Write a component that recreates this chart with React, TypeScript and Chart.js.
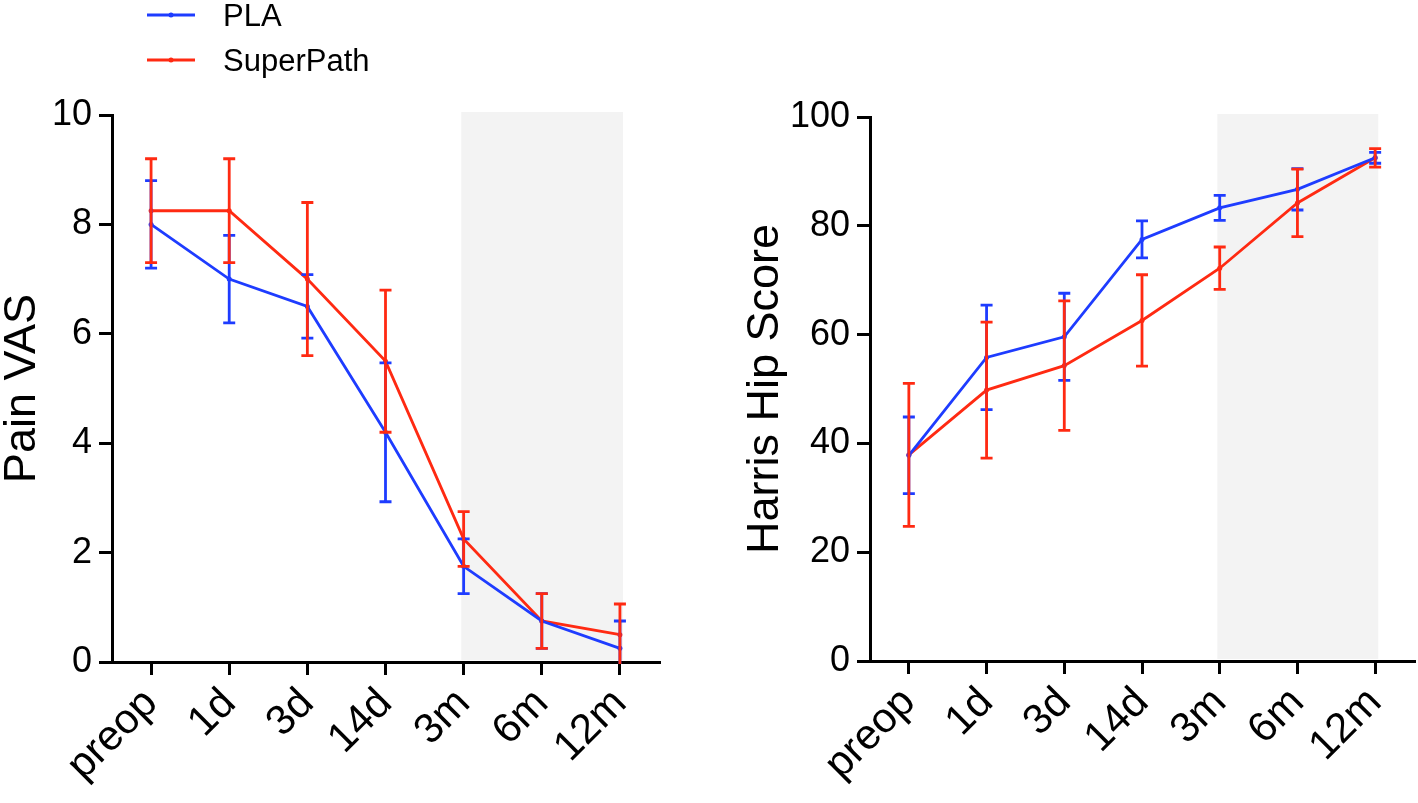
import React, { useEffect, useRef } from 'react';
import { Chart, registerables } from 'chart.js';

Chart.register(...registerables);
Chart.defaults.font.family = "'Liberation Sans', Arial, Helvetica, sans-serif";
Chart.defaults.color = '#000';

// ---------- data ----------
const timepoints = ['preop', '1d', '3d', '14d', '3m', '6m', '12m'];
const seriesNames = ['PLA', 'SuperPath'];
const seriesColors = ['#1e3cff', '#ff2a12'];

const vasPLA = [8.0, 7.0, 6.5, 4.2, 1.75, 0.75, 0.25];
const vasPLAErr = [0.8, 0.8, 0.58, 1.27, 0.5, 0.5, 0.5];
const vasSP = [8.25, 8.25, 7.0, 5.5, 2.25, 0.75, 0.5];
const vasSPErr = [0.95, 0.95, 1.4, 1.3, 0.5, 0.5, 0.56];

const hhsPLA = [37.8, 55.8, 59.6, 77.5, 83.3, 86.7, 92.5];
const hhsPLAErr = [7.05, 9.6, 8.0, 3.4, 2.3, 3.8, 1.0];
const hhsSP = [37.9, 49.8, 54.3, 62.6, 72.2, 84.2, 92.5];
const hhsSPErr = [13.15, 12.5, 11.9, 8.4, 3.9, 6.2, 1.7];

const vasTicks = [0, 2, 4, 6, 8, 10];
const hhsTicks = [0, 20, 40, 60, 80, 100];
const shadedFrom = 3.97; // just before 3m
const shadedTo = 6.04; // just after 12m

// ---------- plugins ----------
const shadePlugin = {
  id: 'shade',
  beforeDraw(chart: any, _args: any, opts: any) {
    const { ctx, chartArea } = chart;
    const xs = chart.scales.x;
    const x0 = xs.getPixelForValue(opts.from);
    const x1 = xs.getPixelForValue(opts.to);
    ctx.save();
    ctx.fillStyle = '#f3f3f3';
    ctx.fillRect(x0, chartArea.top - 3, x1 - x0, chartArea.bottom - 2 - (chartArea.top - 3));
    ctx.restore();
  },
};

const errorBarPlugin = {
  id: 'errorBars',
  afterDatasetsDraw(chart: any) {
    const { ctx, chartArea } = chart;
    const xs = chart.scales.x;
    const ys = chart.scales.y;
    ctx.save();
    ctx.beginPath();
    ctx.rect(chartArea.left, chartArea.top - 10, chartArea.right - chartArea.left + 10, chartArea.bottom - chartArea.top + 12);
    ctx.clip();
    chart.data.datasets.forEach((ds: any) => {
      ctx.strokeStyle = ds.borderColor;
      ctx.lineWidth = 2.8;
      ds.data.forEach((v: number, i: number) => {
        const e = ds.errors[i];
        const px = xs.getPixelForValue(i);
        const pt = ys.getPixelForValue(v + e);
        const pb = ys.getPixelForValue(v - e);
        const cap = 6;
        ctx.beginPath();
        ctx.moveTo(px, pt);
        ctx.lineTo(px, pb);
        ctx.moveTo(px - cap, pt);
        ctx.lineTo(px + cap, pt);
        ctx.moveTo(px - cap, pb);
        ctx.lineTo(px + cap, pb);
        ctx.stroke();
      });
    });
    ctx.restore();
  },
};

const legendPlugin = {
  id: 'cornerLegend',
  afterDraw(chart: any, _args: any, opts: any) {
    if (!opts || !opts.show) return;
    const { ctx } = chart;
    ctx.save();
    chart.data.datasets.forEach((ds: any, i: number) => {
      const y = opts.y[i];
      ctx.strokeStyle = ds.borderColor;
      ctx.fillStyle = ds.borderColor;
      ctx.lineWidth = 3;
      ctx.beginPath();
      ctx.moveTo(opts.x, y);
      ctx.lineTo(opts.x + 48, y);
      ctx.stroke();
      ctx.beginPath();
      ctx.arc(opts.x + 24, y, 2.5, 0, Math.PI * 2);
      ctx.fill();
      ctx.fillStyle = '#000';
      ctx.font = "31px 'Liberation Sans', Arial, sans-serif";
      ctx.textBaseline = 'middle';
      ctx.textAlign = 'left';
      ctx.fillText(ds.label, opts.x + 76, y + 2);
    });
    ctx.restore();
  },
};

// ---------- chart builder ----------
function makeConfig(p: {
  a: number[]; aErr: number[]; b: number[]; bErr: number[];
  ticks: number[]; title: string; yWidth: number; titlePad: number;
  padTop: number; padRight: number; xHeight: number; legend: boolean;
}) {
  return {
    type: 'line',
    data: {
      labels: timepoints,
      datasets: [
        { label: seriesNames[0], data: p.a, errors: p.aErr, borderColor: seriesColors[0], backgroundColor: seriesColors[0] },
        { label: seriesNames[1], data: p.b, errors: p.bErr, borderColor: seriesColors[1], backgroundColor: seriesColors[1] },
      ].map((d) => ({ ...d, borderWidth: 2.8, pointRadius: 2.5, pointBorderWidth: 0, tension: 0, fill: false })),
    },
    options: {
      animation: false,
      responsive: false,
      maintainAspectRatio: false,
      layout: { padding: { top: p.padTop, right: p.padRight, left: 0, bottom: 0 } },
      plugins: {
        legend: { display: false },
        tooltip: { enabled: false },
        shade: { from: shadedFrom, to: shadedTo },
        cornerLegend: { show: p.legend, x: 147, y: [15, 60] },
      },
      scales: {
        x: {
          type: 'category',
          offset: true,
          grid: { offset: false, drawOnChartArea: false, drawTicks: true, tickLength: 13, tickWidth: 3, tickColor: '#000', lineWidth: 3 },
          border: { display: true, color: '#000', width: 3 },
          ticks: { font: { size: 42 }, color: '#000', minRotation: 45, maxRotation: 45, padding: 4, autoSkip: false },
          afterFit: (s: any) => { s.height = p.xHeight; },
        },
        y: {
          min: p.ticks[0],
          max: p.ticks[p.ticks.length - 1],
          afterBuildTicks: (s: any) => { s.ticks = p.ticks.map((v) => ({ value: v })); },
          grid: { drawOnChartArea: false, drawTicks: true, tickLength: 13, tickWidth: 3, tickColor: '#000', lineWidth: 3 },
          border: { display: true, color: '#000', width: 3 },
          ticks: { font: { size: 36 }, color: '#000', padding: 7 },
          title: { display: true, text: p.title, color: '#000', font: { size: 45, lineHeight: 1 }, padding: { top: p.titlePad, bottom: 0 } },
          afterFit: (s: any) => { s.width = p.yWidth; },
        },
      },
    },
    plugins: [shadePlugin, errorBarPlugin, legendPlugin],
  };
}

function Panel({ left, width, config }: { left: number; width: number; config: any }) {
  const ref = useRef<HTMLCanvasElement | null>(null);
  useEffect(() => {
    if (!ref.current) return;
    const chart = new Chart(ref.current, config);
    return () => chart.destroy();
  }, [config]);
  return (
    <canvas
      ref={ref}
      width={width}
      height={803}
      style={{ position: 'absolute', left, top: 0, width, height: 803 }}
    />
  );
}

const vasConfig = makeConfig({
  a: vasPLA, aErr: vasPLAErr, b: vasSP, bErr: vasSPErr,
  ticks: vasTicks, title: 'Pain VAS', yWidth: 112, titlePad: 0,
  padTop: 115, padRight: 41, xHeight: 141, legend: true,
});

const hhsConfig = makeConfig({
  a: hhsPLA, aErr: hhsPLAErr, b: hhsSP, bErr: hhsSPErr,
  ticks: hhsTicks, title: 'Harris Hip Score', yWidth: 170, titlePad: 43,
  padTop: 117, padRight: 3, xHeight: 142, legend: false,
});

export default function App() {
  return (
    <div style={{ position: 'absolute', left: 0, top: 0, width: 1418, height: 803, background: '#fff' }}>
      <Panel left={0} width={700} config={vasConfig} />
      <Panel left={700} width={718} config={hhsConfig} />
    </div>
  );
}
